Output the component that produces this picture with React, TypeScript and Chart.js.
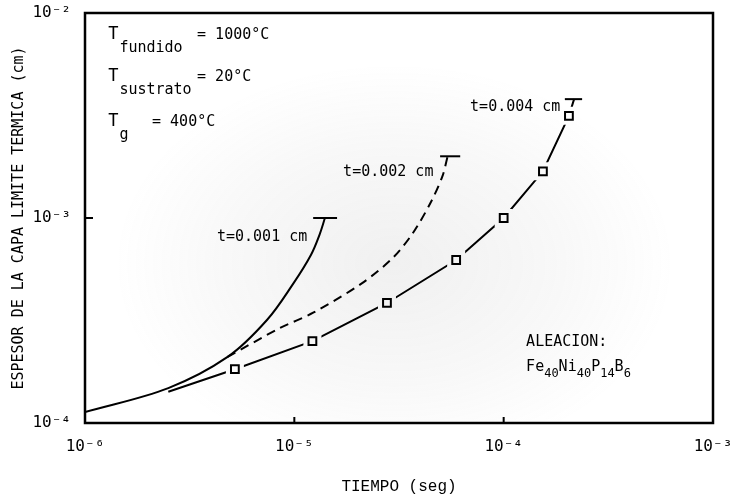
import React, { useEffect, useRef } from 'react';
import { Chart, registerables } from 'chart.js';

Chart.register(...registerables);

// ---- data ----
const xTickValues = [1e-6, 1e-5, 1e-4, 1e-3];
const xTickLabels = ['10⁻⁶', '10⁻⁵', '10⁻⁴', '10⁻³'];
const yTickValues = [1e-4, 1e-3, 1e-2];
const yTickLabels = ['10⁻⁴', '10⁻³', '10⁻²'];

// t = 0.001 cm (solid curve)
const t001X = [1e-6, 2.5e-6, 4.8e-6, 7.4e-6, 9.9e-6, 1.2e-5, 1.32e-5, 1.4e-5];
const t001Y = [1.13e-4, 1.48e-4, 2.1e-4, 3.18e-4, 4.8e-4, 6.6e-4, 8.3e-4, 1e-3];

// t = 0.002 cm (dashed curve)
const t002X = [4.8e-6, 8.5e-6, 1.23e-5, 2.1e-5, 2.96e-5, 3.7e-5, 4.5e-5, 5.1e-5, 5.4e-5];
const t002Y = [2.1e-4, 2.9e-4, 3.45e-4, 4.8e-4, 6.4e-4, 8.5e-4, 1.2e-3, 1.6e-3, 2e-3];

// t = 0.004 cm (solid line with square markers)
const t004X = [2.5e-6, 5.2e-6, 1.22e-5, 2.77e-5, 5.93e-5, 1e-4, 1.54e-4, 2.05e-4, 2.17e-4];
const t004Y = [1.42e-4, 1.83e-4, 2.51e-4, 3.85e-4, 6.24e-4, 1e-3, 1.69e-3, 3.15e-3, 3.8e-3];
const squareX = [5.2e-6, 1.22e-5, 2.77e-5, 5.93e-5, 1e-4, 1.54e-4, 2.05e-4];
const squareY = [1.83e-4, 2.51e-4, 3.85e-4, 6.24e-4, 1e-3, 1.69e-3, 3.15e-3];

// end caps ("T" bars) of each curve
const cap001X = [1.23e-5, 1.6e-5];
const cap001Y = [1e-3, 1e-3];
const cap002X = [4.97e-5, 6.2e-5];
const cap002Y = [2e-3, 2e-3];
const cap004X = [1.96e-4, 2.37e-4];
const cap004Y = [3.8e-3, 3.8e-3];

// text annotations (data coordinates, left/middle anchored)
type Part = { t: string; sub?: boolean };
const annotationX = [4.27e-6, 1.71e-5, 6.91e-5, 1.28e-4, 1.28e-4];
const annotationY = [8.08e-4, 1.68e-3, 3.48e-3, 2.48e-4, 1.88e-4];
const annotationParts: Part[][] = [
  [{ t: 't=0.001 cm' }],
  [{ t: 't=0.002 cm' }],
  [{ t: 't=0.004 cm' }],
  [{ t: 'ALEACION:' }],
  [
    { t: 'Fe' }, { t: '40', sub: true },
    { t: 'Ni' }, { t: '40', sub: true },
    { t: 'P' }, { t: '14', sub: true },
    { t: 'B' }, { t: '6', sub: true },
  ],
];

// temperature block (data coordinates)
const tempX = [1.29e-6, 1.29e-6, 1.29e-6];
const tempY = [7.81e-3, 4.87e-3, 2.94e-3];
const tempSubs = ['fundido', 'sustrato', 'g'];
const tempEqX = [3.43e-6, 3.43e-6, 2.09e-6];
const tempValues = ['= 1000°C', '= 20°C', '= 400°C'];

// faint scanned-shading centre (data coordinates)
const shadeCenterX = 3e-5;
const shadeCenterY = 6e-4;

const xTitle = 'TIEMPO (seg)';
const yTitle = 'ESPESOR DE LA CAPA LIMITE TERMICA (cm)';

const pts = (xs: number[], ys: number[]) => xs.map((x, i) => ({ x, y: ys[i] }));

const MONO = '"DejaVu Sans Mono", monospace';
const T004_INDEX = 6;
const GAP = 9; // half-size of the gap left in the line around each marker

function drawParts(ctx: CanvasRenderingContext2D, x: number, y: number, parts: Part[], size: number) {
  let cx = x;
  for (const p of parts) {
    const s = p.sub ? size * 0.8 : size;
    ctx.font = `${s}px ${MONO}`;
    ctx.fillText(p.t, cx, p.sub ? y + size * 0.45 : y);
    cx += ctx.measureText(p.t).width;
  }
}

const decorPlugin = {
  id: 'decor',
  beforeDatasetsDraw(chart: any) {
    const { ctx, chartArea, scales } = chart;
    const cx = scales.x.getPixelForValue(shadeCenterX);
    const cy = scales.y.getPixelForValue(shadeCenterY);
    ctx.save();
    ctx.beginPath();
    ctx.rect(chartArea.left, chartArea.top, chartArea.right - chartArea.left, chartArea.bottom - chartArea.top);
    ctx.clip();
    ctx.translate(cx, cy);
    ctx.scale(1.4, 1);
    const g = ctx.createRadialGradient(0, 0, 0, 0, 0, 200);
    g.addColorStop(0, 'rgba(120,120,120,0.11)');
    g.addColorStop(0.6, 'rgba(120,120,120,0.05)');
    g.addColorStop(1, 'rgba(120,120,120,0)');
    ctx.fillStyle = g;
    ctx.fillRect(-300, -300, 600, 600);
    ctx.restore();
  },
  beforeDatasetDraw(chart: any, args: any) {
    if (args.index !== T004_INDEX) return;
    const { ctx, chartArea, scales } = chart;
    ctx.save();
    ctx.beginPath();
    ctx.rect(0, 0, chart.width, chart.height);
    squareX.forEach((v, i) => {
      const px = scales.x.getPixelForValue(v);
      const py = scales.y.getPixelForValue(squareY[i]);
      ctx.rect(px - GAP, py - GAP, GAP * 2, GAP * 2);
    });
    ctx.clip('evenodd');
  },
  afterDatasetDraw(chart: any, args: any) {
    if (args.index !== T004_INDEX) return;
    chart.ctx.restore();
  },
  afterDatasetsDraw(chart: any) {
    const { ctx, chartArea, scales } = chart;
    const xs = scales.x;
    const ys = scales.y;
    ctx.save();
    ctx.fillStyle = '#000';
    ctx.textBaseline = 'middle';
    ctx.textAlign = 'left';
    annotationParts.forEach((parts, i) => {
      drawParts(ctx, xs.getPixelForValue(annotationX[i]), ys.getPixelForValue(annotationY[i]), parts, 15);
    });
    tempSubs.forEach((sub, i) => {
      const px = xs.getPixelForValue(tempX[i]);
      const py = ys.getPixelForValue(tempY[i]);
      ctx.font = `17px ${MONO}`;
      ctx.fillText('T', px, py);
      const w = ctx.measureText('T').width;
      ctx.font = `15px ${MONO}`;
      ctx.fillText(sub, px + w + 1, py + 13);
      ctx.font = `15px ${MONO}`;
      ctx.fillText(tempValues[i], xs.getPixelForValue(tempEqX[i]), py);
    });

    // frame
    ctx.strokeStyle = '#000';
    ctx.lineWidth = 2.5;
    ctx.strokeRect(chartArea.left, chartArea.top, chartArea.right - chartArea.left, chartArea.bottom - chartArea.top);
    // inward ticks
    ctx.lineWidth = 2;
    ctx.beginPath();
    xTickValues.slice(1, -1).forEach((v) => {
      const px = xs.getPixelForValue(v);
      ctx.moveTo(px, chartArea.bottom);
      ctx.lineTo(px, chartArea.bottom - 6);
    });
    yTickValues.slice(1, -1).forEach((v) => {
      const py = ys.getPixelForValue(v);
      ctx.moveTo(chartArea.left, py);
      ctx.lineTo(chartArea.left + 8, py);
    });
    ctx.stroke();

    // axis titles
    ctx.textAlign = 'center';
    ctx.font = `16px "Liberation Mono", monospace`;
    ctx.fillText(xTitle, (chartArea.left + chartArea.right) / 2, 487);
    ctx.save();
    ctx.translate(19, (chartArea.top + chartArea.bottom) / 2);
    ctx.rotate(-Math.PI / 2);
    ctx.font = `15px ${MONO}`;
    ctx.fillText(yTitle, 0, 0);
    ctx.restore();
    ctx.restore();
  },
};

export default function App() {
  const ref = useRef<HTMLCanvasElement | null>(null);
  useEffect(() => {
    document.body.style.margin = '0';
    if (!ref.current) return;
    const line = { borderColor: '#000', borderWidth: 2, pointRadius: 0, fill: false };
    const chart = new Chart(ref.current, {
      type: 'line',
      data: {
        datasets: [
          { ...line, data: pts(t001X, t001Y), tension: 0.35, order: 1 },
          { ...line, data: pts(t002X, t002Y), tension: 0.3, borderDash: [9, 6], order: 1 },
          { ...line, data: pts(cap001X, cap001Y), tension: 0, order: 1 },
          { ...line, data: pts(cap002X, cap002Y), tension: 0, order: 1 },
          { ...line, data: pts(cap004X, cap004Y), tension: 0, order: 1 },
          {
            data: pts(squareX, squareY), showLine: false, pointStyle: 'rect', pointRadius: 5.5,
            pointBackgroundColor: 'rgba(255,255,255,0)', pointBorderColor: '#000', pointBorderWidth: 2, order: 3,
          },
          { ...line, data: pts(t004X, t004Y), tension: 0, order: 5 },
        ] as any,
      },
      options: {
        animation: false,
        responsive: true,
        maintainAspectRatio: false,
        layout: { padding: { top: 13, right: 18, left: 0, bottom: 0 } },
        plugins: { legend: { display: false }, tooltip: { enabled: false } },
        events: [],
        scales: {
          x: {
            type: 'logarithmic',
            min: 1e-6,
            max: 1e-3,
            afterBuildTicks: (s: any) => { s.ticks = xTickValues.map((v) => ({ value: v })); },
            afterFit: (s: any) => { s.height = 79; s.paddingLeft = 0; s.paddingRight = 0; },
            ticks: {
              autoSkip: false, maxRotation: 0, color: '#000', padding: 6,
              font: { family: 'DejaVu Sans Mono', size: 16 },
              callback: (_v: any, i: number) => xTickLabels[i],
            },
            grid: { display: false },
            border: { display: false },
          },
          y: {
            type: 'logarithmic',
            min: 1e-4,
            max: 1e-2,
            afterBuildTicks: (s: any) => { s.ticks = yTickValues.map((v) => ({ value: v })); },
            afterFit: (s: any) => { s.width = 85; s.paddingTop = 0; s.paddingBottom = 0; },
            ticks: {
              autoSkip: false, color: '#000', padding: 6,
              font: { family: 'DejaVu Sans Mono', size: 16 },
              callback: (_v: any, i: number) => yTickLabels[i],
            },
            grid: { display: false },
            border: { display: false },
          },
        },
      } as any,
      plugins: [decorPlugin],
    });
    return () => chart.destroy();
  }, []);
  return (
    <div style={{ position: 'absolute', left: 0, top: 0, width: 731, height: 502, background: '#fff' }}>
      <canvas ref={ref} />
    </div>
  );
}
